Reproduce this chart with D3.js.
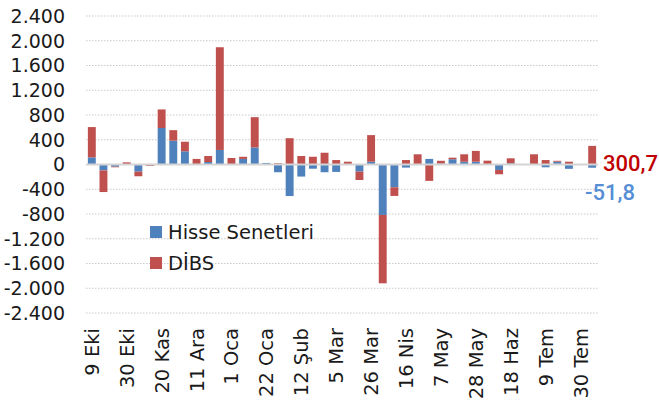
<!DOCTYPE html>
<html>
<head>
<meta charset="utf-8">
<script src="https://cdn.jsdelivr.net/npm/d3@7"></script>
<style>
  body { margin: 0; background: #fff; }
  svg text { font-family: "DejaVu Sans", sans-serif; fill: #1a1a1a; }
</style>
</head>
<body>
<svg id="chart" width="659" height="405"></svg>
<script>
// weekly dates (Friday), 9 Eki 2020 - 6 Ağu 2021
var weeks = ["9 Eki","16 Eki","23 Eki","30 Eki","6 Kas","13 Kas","20 Kas","27 Kas","4 Ara","11 Ara",
  "18 Ara","25 Ara","1 Oca","8 Oca","15 Oca","22 Oca","29 Oca","5 Şub","12 Şub","19 Şub",
  "26 Şub","5 Mar","12 Mar","19 Mar","26 Mar","2 Nis","9 Nis","16 Nis","23 Nis","30 Nis",
  "7 May","14 May","21 May","28 May","4 Haz","11 Haz","18 Haz","25 Haz","2 Tem","9 Tem",
  "16 Tem","23 Tem","30 Tem","6 Ağu"];

// million USD
var hisse = [115,-95,-35,5,-115,-5,590,385,213,5,
  40,235,5,90,275,25,-125,-510,-195,-68,
  -125,-120,0,-115,45,-815,-368,-50,0,90,
  15,85,45,45,0,-88,20,3,0,-45,
  45,-70,0,-51.8];
var dibs = [490,-350,-10,30,-75,-18,300,170,155,85,
  97,1660,100,35,490,0,20,425,137,125,
  190,72,45,-135,430,-1105,-140,72,165,-265,
  45,25,120,175,62,-70,80,2,165,72,
  15,45,0,300.7];

var yTicks = [-2400,-2000,-1600,-1200,-800,-400,0,400,800,1200,1600,2000,2400];
var seriesNames = ["Hisse Senetleri","DİBS"];
var seriesColors = ["#4F81BD","#C0504D"];

var svg = d3.select("#chart");

var tr = d3.formatLocale({decimal: ",", thousands: ".", grouping: [3], currency: ["", ""], minus: "-"});
var fmtTick = tr.format(",.0f");
var fmtLast = tr.format(",.1f");

var x = d3.scaleBand()
  .domain(d3.range(weeks.length))
  .range([86, 598])
  .paddingInner(0.32)
  .paddingOuter(0.16);

var y = d3.scaleLinear()
  .domain([-2400, 2400])
  .range([313, 16]);

// gridlines
svg.append("g")
  .selectAll("line")
  .data(yTicks.filter(function(d){ return d != 0; }))
  .enter()
  .append("line")
  .attr("x1", 86).attr("x2", 598)
  .attr("y1", function(d){ return y(d); })
  .attr("y2", function(d){ return y(d); })
  .attr("stroke", "#c9c9c9")
  .attr("stroke-width", 1)
  .attr("stroke-dasharray", "1.5,1.5");

// y labels
svg.append("g")
  .selectAll("text")
  .data(yTicks)
  .enter()
  .append("text")
  .attr("x", 65)
  .attr("y", function(d){ return y(d); })
  .attr("dy", "0.36em")
  .attr("text-anchor", "end")
  .style("font-size", "19px")
  .text(function(d){ return fmtTick(d); });

// stacked bars, positives up and negatives down
var rows = weeks.map(function(w, i){ return {i: i, h: hisse[i], d: dibs[i]}; });
var stack = d3.stack().keys(["h","d"]).offset(d3.stackOffsetDiverging);
var layers = stack(rows);

svg.append("g")
  .selectAll("g")
  .data(layers)
  .enter()
  .append("g")
  .attr("fill", function(d, k){ return seriesColors[k]; })
  .selectAll("rect")
  .data(function(d){ return d; })
  .enter()
  .append("rect")
  .attr("x", function(d){ return x(d.data.i); })
  .attr("width", x.bandwidth())
  .attr("y", function(d){ return y(Math.max(d[0], d[1])); })
  .attr("height", function(d){ return Math.abs(y(d[0]) - y(d[1])); });

// zero line
svg.append("line")
  .attr("x1", 86).attr("x2", 598)
  .attr("y1", y(0)).attr("y2", y(0))
  .attr("stroke", "#d4d4d4")
  .attr("stroke-width", 2);

// x labels every 3 weeks
svg.append("g")
  .selectAll("text")
  .data(weeks.map(function(w, i){ return {w: w, i: i}; }).filter(function(d){ return d.i % 3 == 0; }))
  .enter()
  .append("text")
  .attr("transform", function(d){ return "translate(" + (x(d.i) + x.bandwidth() / 2) + ",328) rotate(-90)"; })
  .attr("dy", "0.36em")
  .attr("text-anchor", "end")
  .style("font-size", "19.5px")
  .text(function(d){ return d.w; });

// legend
var legend = svg.append("g")
  .selectAll("g")
  .data(seriesNames)
  .enter()
  .append("g")
  .attr("transform", function(d, k){ return "translate(150," + (226 + k * 31) + ")"; });
legend.append("rect")
  .attr("width", 12).attr("height", 12)
  .attr("fill", function(d, k){ return seriesColors[k]; });
legend.append("text")
  .attr("x", 18).attr("y", 12.5)
  .style("font-size", "19.5px")
  .text(function(d){ return d; });

// last week values
var last = weeks.length - 1;
svg.append("text")
  .attr("x", 603)
  .attr("y", y(dibs[last]) + 25)
  .style("font-family", "Roboto, sans-serif")
  .style("font-size", "22px")
  .style("font-weight", "500")
  .style("fill", "#C00000")
  .text(fmtLast(dibs[last]));
svg.append("text")
  .attr("x", 585)
  .attr("y", y(hisse[last]) + 32)
  .style("font-family", "Roboto, sans-serif")
  .style("font-size", "22px")
  .style("font-weight", "500")
  .style("fill", "#558ED5")
  .text(fmtLast(hisse[last]));
</script>
</body>
</html>
